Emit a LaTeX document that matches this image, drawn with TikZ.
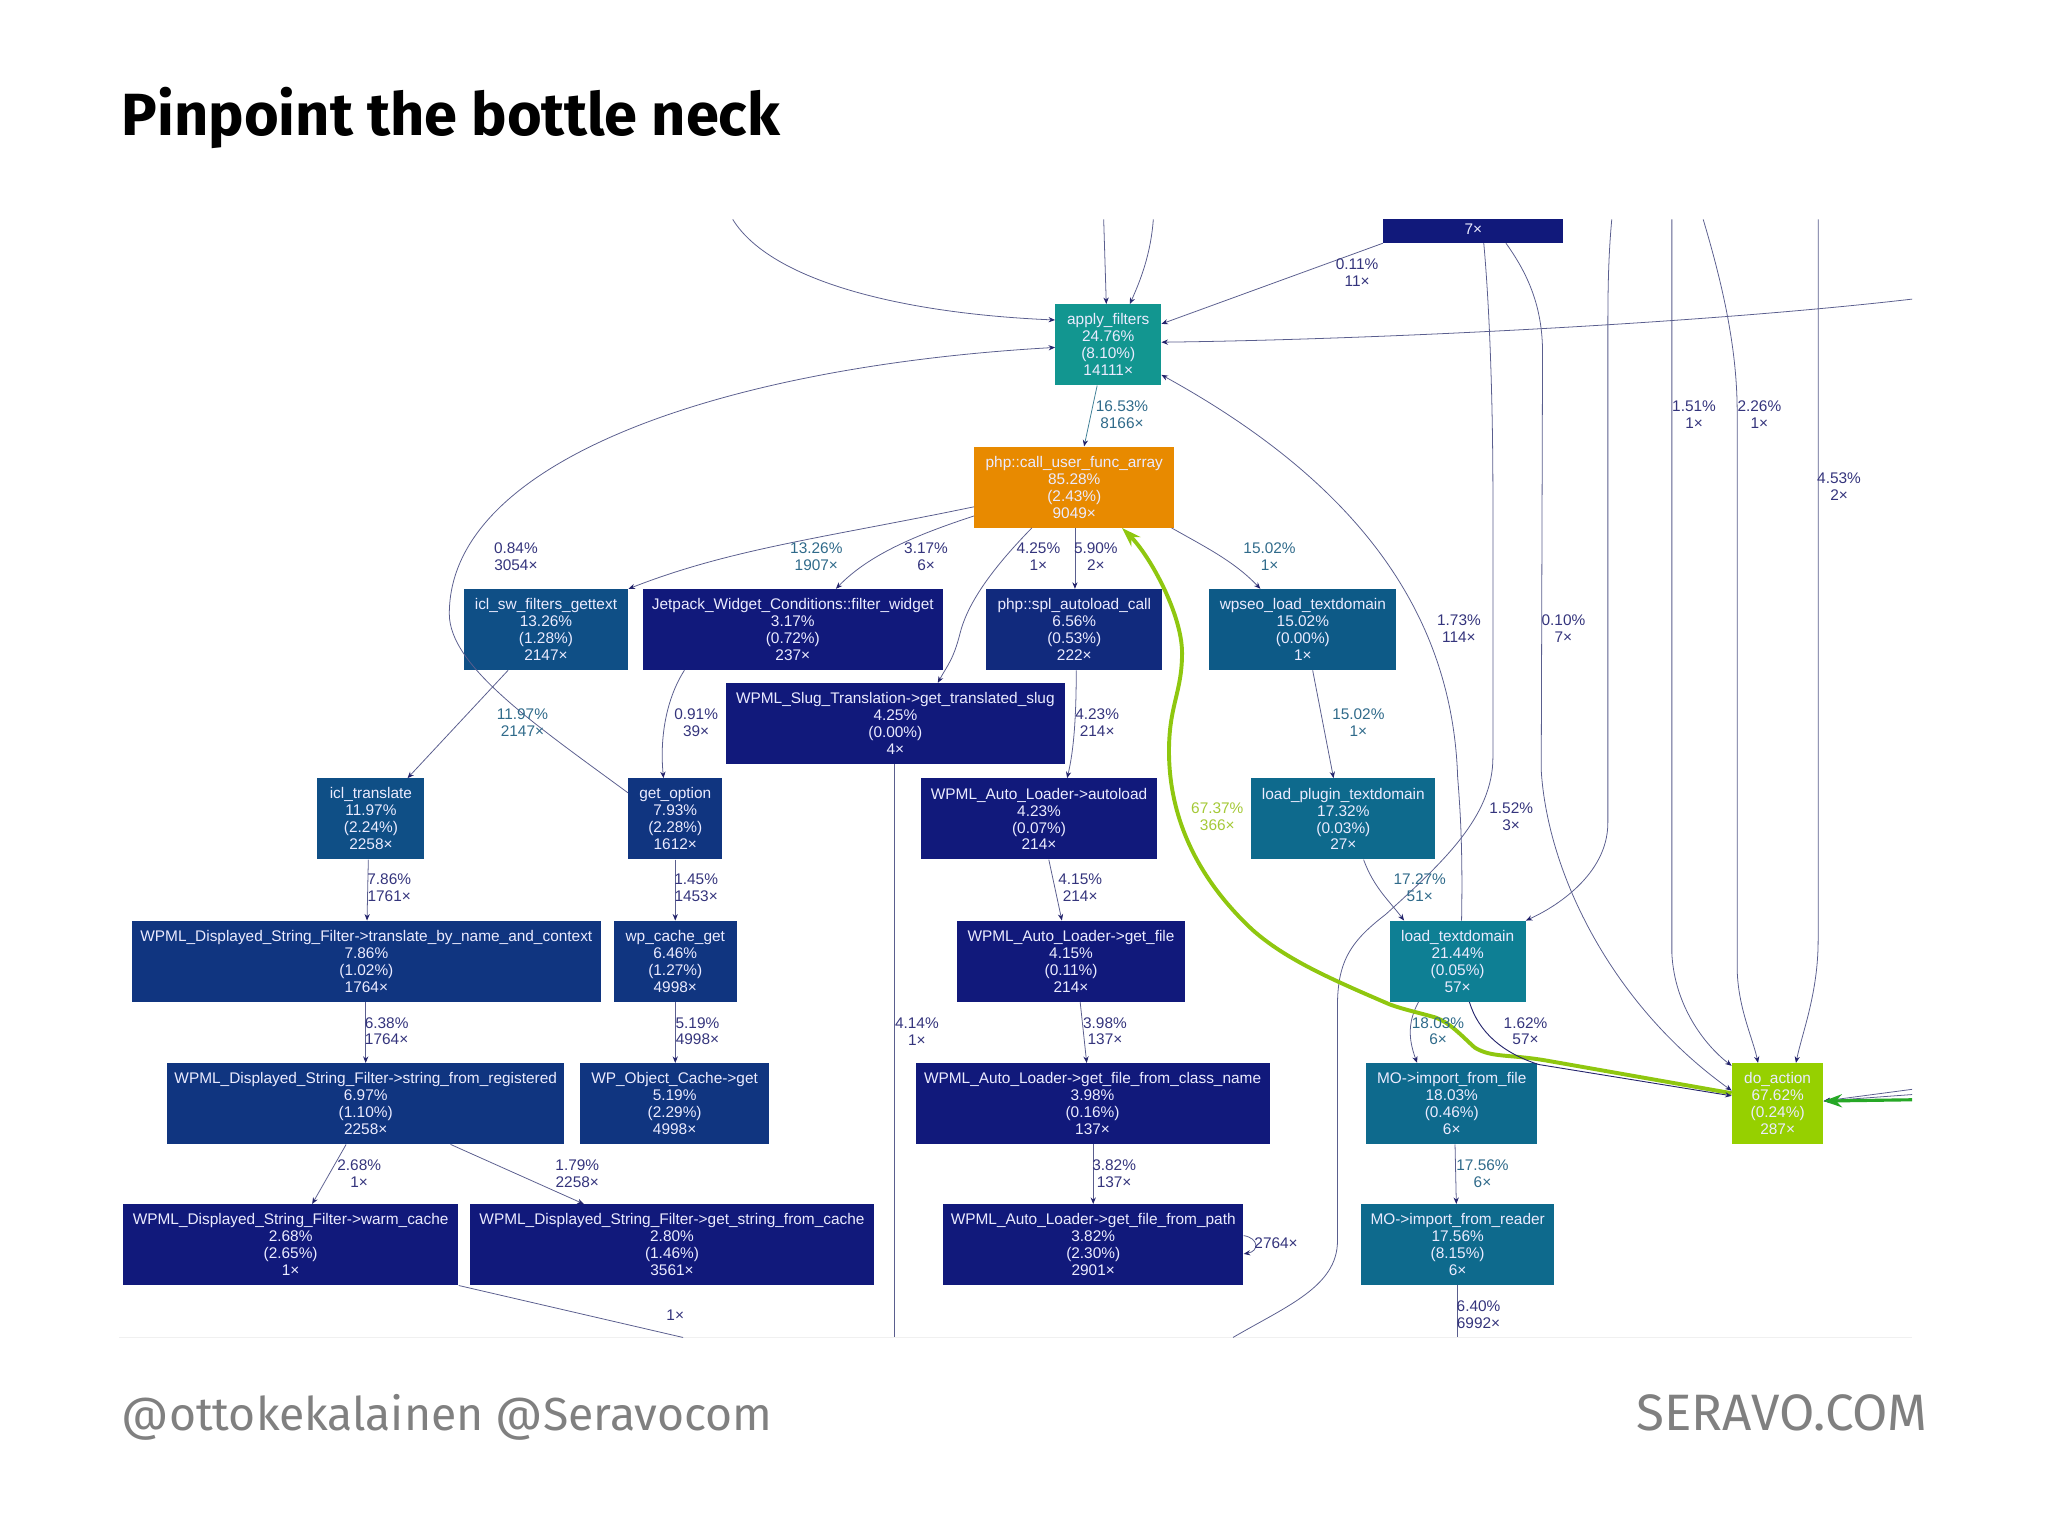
\documentclass[tikz,border=0pt]{standalone}
\usepackage{fontspec}
\usetikzlibrary{arrows.meta}
\setmainfont{Liberation Sans}
\newfontfamily\headfont{Fira Sans}
\definecolor{navyA}{HTML}{11197B}
\definecolor{navyB}{HTML}{112A7D}
\definecolor{navyC}{HTML}{103580}
\definecolor{blueA}{HTML}{0F4F86}
\definecolor{blueC}{HTML}{0D5A87}
\definecolor{blueB}{HTML}{0E6A8D}
\definecolor{tealA}{HTML}{0E7F94}
\definecolor{tealB}{HTML}{129690}
\definecolor{orangeA}{HTML}{E88A00}
\definecolor{limeA}{HTML}{96D000}
\definecolor{limeB}{HTML}{8FC70F}
\definecolor{lineA}{HTML}{5A5E8E}
\definecolor{lineB}{HTML}{3F7F96}
\definecolor{tipA}{HTML}{24246C}
\definecolor{textA}{HTML}{34347C}
\definecolor{textB}{HTML}{2F6A8A}
\definecolor{textC}{HTML}{A4C936}
\definecolor{footA}{HTML}{808080}
\begin{document}
\begin{tikzpicture}[x=1pt,y=-1pt,
        fn/.style={rectangle,text=white!92!blue,align=center,inner sep=0pt,
            minimum height=62pt,font=\fontsize{11.8}{13}\selectfont},
        lbl/.style={align=center,inner sep=0pt,text=textA,
            font=\fontsize{11.8}{13}\selectfont},
        edge/.style={draw=lineA,line width=0.6pt,-{Stealth[length=5pt,width=4pt,color=tipA]}},
        cut/.style={draw=lineA,line width=0.6pt},
        hot/.style={draw=limeB,line width=3pt,-{Stealth[length=15pt,width=10pt]}}]
    \useasboundingbox (0,0) rectangle (1568,1176.75);

    \node[anchor=base west,inner sep=0pt,font=\headfont\bfseries\fontsize{45.6}{50}\selectfont] (title) at (93,104) {Pinpoint the bottle neck};
    \node[anchor=base west,inner sep=0pt,text=footA,font=\headfont\fontsize{35.5}{40}\selectfont] (handles) at (93,1095) {@ottokekalainen @Seravocom};
    \node[anchor=base east,inner sep=0pt,text=footA,font=\headfont\fontsize{39.2}{40}\selectfont] (site) at (1476,1095) {SERAVO.COM};

    % boxes, row by row
    \node[fn,fill=navyA,minimum width=138pt,minimum height=18pt] (top) at (1128,177) {\raisebox{3pt}{7×}};
    \node[fn,fill=tealB,minimum width=81pt] (apply) at (848.5,264) {apply\_filters\\24.76\%\\(8.10\%)\\14111×};
    \node[fn,fill=orangeA,minimum width=153pt] (php) at (822.5,373) {php::call\_user\_func\_array\\85.28\%\\(2.43\%)\\9049×};
    \node[fn,fill=blueA,minimum width=126pt] (gettext) at (418,482) {icl\_sw\_filters\_gettext\\13.26\%\\(1.28\%)\\2147×};
    \node[fn,fill=navyA,minimum width=230pt] (jetpack) at (607,482) {Jetpack\_Widget\_Conditions::filter\_widget\\3.17\%\\(0.72\%)\\237×};
    \node[fn,fill=navyB,minimum width=135pt] (spl) at (822.5,482) {php::spl\_autoload\_call\\6.56\%\\(0.53\%)\\222×};
    \node[fn,fill=blueC,minimum width=143pt] (wpseo) at (997.5,482) {wpseo\_load\_textdomain\\15.02\%\\(0.00\%)\\1×};
    \node[fn,fill=navyA,minimum width=259pt] (slug) at (685.5,554) {WPML\_Slug\_Translation->get\_translated\_slug\\4.25\%\\(0.00\%)\\4×};
    \node[fn,fill=blueA,minimum width=82pt] (translate) at (284,627) {icl\_translate\\11.97\%\\(2.24\%)\\2258×};
    \node[fn,fill=navyC,minimum width=72pt] (option) at (517,627) {get\_option\\7.93\%\\(2.28\%)\\1612×};
    \node[fn,fill=navyA,minimum width=181pt] (autoload) at (795.5,627) {WPML\_Auto\_Loader->autoload\\4.23\%\\(0.07\%)\\214×};
    \node[fn,fill=blueB,minimum width=141pt] (plugin) at (1028.5,627) {load\_plugin\_textdomain\\17.32\%\\(0.03\%)\\27×};
    \node[fn,fill=navyC,minimum width=359pt] (context) at (280.5,736) {WPML\_Displayed\_String\_Filter->translate\_by\_name\_and\_context\\7.86\%\\(1.02\%)\\1764×};
    \node[fn,fill=navyC,minimum width=94pt] (cacheget) at (517,736) {wp\_cache\_get\\6.46\%\\(1.27\%)\\4998×};
    \node[fn,fill=navyA,minimum width=174pt] (getfile) at (820,736) {WPML\_Auto\_Loader->get\_file\\4.15\%\\(0.11\%)\\214×};
    \node[fn,fill=tealA,minimum width=104pt] (domain) at (1116,736) {load\_textdomain\\21.44\%\\(0.05\%)\\57×};
    \node[fn,fill=navyC,minimum width=304pt] (registered) at (280,845) {WPML\_Displayed\_String\_Filter->string\_from\_registered\\6.97\%\\(1.10\%)\\2258×};
    \node[fn,fill=navyC,minimum width=145pt] (object) at (516.5,845) {WP\_Object\_Cache->get\\5.19\%\\(2.29\%)\\4998×};
    \node[fn,fill=navyA,minimum width=271pt] (classname) at (836.5,845) {WPML\_Auto\_Loader->get\_file\_from\_class\_name\\3.98\%\\(0.16\%)\\137×};
    \node[fn,fill=blueB,minimum width=131pt] (importfile) at (1111.5,845) {MO->import\_from\_file\\18.03\%\\(0.46\%)\\6×};
    \node[fn,fill=limeA,minimum width=70pt] (doaction) at (1361,845) {do\_action\\67.62\%\\(0.24\%)\\287×};
    \node[fn,fill=navyA,minimum width=257pt] (warm) at (222.5,953) {WPML\_Displayed\_String\_Filter->warm\_cache\\2.68\%\\(2.65\%)\\1×};
    \node[fn,fill=navyA,minimum width=309pt] (strcache) at (514.5,953) {WPML\_Displayed\_String\_Filter->get\_string\_from\_cache\\2.80\%\\(1.46\%)\\3561×};
    \node[fn,fill=navyA,minimum width=230pt] (path) at (837,953) {WPML\_Auto\_Loader->get\_file\_from\_path\\3.82\%\\(2.30\%)\\2901×};
    \node[fn,fill=blueB,minimum width=148pt] (reader) at (1116,953) {MO->import\_from\_reader\\17.56\%\\(8.15\%)\\6×};

    % free ends at the cut of the picture
    \coordinate (inA) at (561,168);
    \coordinate (inB) at (845,168);
    \coordinate (inC) at (883,168);
    \coordinate (inD) at (1464,229);
    \coordinate (inE) at (1234,168);
    \coordinate (inF) at (1280,168);
    \coordinate (inG) at (1304,168);
    \coordinate (inH) at (1392,168);
    \coordinate (inI) at (1464,842);
    \coordinate (inJ) at (1464,834);
    \coordinate (inK) at (1464,838);
    \coordinate (outA) at (523,1024);
    \coordinate (outB) at (685,1024);
    \coordinate (outC) at (944,1024);
    \coordinate (outD) at (1116,1024);
    \coordinate (cutL) at (91,1024);
    \coordinate (cutR) at (1464,1024);
    \draw[draw=black!6,line width=1pt] (cutL) -- (cutR);

    % connectors
    \draw[edge] (inA) .. controls (590,215) and (690,240) .. ([yshift=19pt]apply.west);
    \draw[edge] (inB) -- ([xshift=-1.5pt]apply.north);
    \draw[edge] (inC) .. controls (881,195) and (873,215) .. ([xshift=16.5pt]apply.north);
    \draw[edge] (top.south west) -- ([yshift=16pt]apply.east);
    \draw[edge] (inD) .. controls (1300,248) and (1050,260) .. ([yshift=2pt]apply.east);
    \draw[edge,draw=lineB] ([xshift=-8.5pt]apply.south) -- ([xshift=7.5pt]php.north);
    \draw[edge] ([yshift=20pt]option.west) .. controls (410,555) and (344,510) .. (344,470)
        .. controls (344,350) and (560,280) .. ([yshift=-2pt]apply.west);
    \draw[edge] ([yshift=-15pt]php.west) .. controls (630,412) and (560,420) .. (gettext.north east);
    \draw[edge] ([yshift=-22pt]php.west) .. controls (700,410) and (665,425) .. ([xshift=33pt]jetpack.north);
    \draw[edge] ([xshift=-32.5pt]php.south) .. controls (755,440) and (740,465) .. (735,485)
        .. controls (730,505) and (725,510) .. ([xshift=32.5pt]slug.north);
    \draw[edge] ([xshift=.5pt]php.south) -- ([xshift=.5pt]spl.north);
    \draw[edge] ([xshift=74.5pt]php.south) .. controls (925,420) and (945,430) .. ([xshift=-32.5pt]wpseo.north);
    \draw[edge] ([xshift=-29pt]gettext.south) -- ([xshift=28pt]translate.north);
    \draw[edge] ([xshift=-83pt]jetpack.south) .. controls (510,535) and (505,565) .. ([xshift=-9pt]option.north);
    \draw[edge] ([xshift=1.5pt]spl.south) .. controls (824,550) and (822,575) .. ([xshift=21.5pt]autoload.north);
    \draw[edge] ([xshift=7.5pt]wpseo.south) -- ([xshift=-7.5pt]plugin.north);
    \draw[edge] ([xshift=-2pt]translate.south) -- ([xshift=.5pt]context.north);
    \draw[edge] (option.south) -- (cacheget.north);
    \draw[edge] ([xshift=7.5pt]autoload.south) -- ([xshift=-7pt]getfile.north);
    \draw[edge] ([xshift=15.5pt]plugin.south) .. controls (1052,680) and (1064,690) .. ([xshift=-41pt]domain.north);
    \draw[edge] ([xshift=-.5pt]context.south) -- (registered.north);
    \draw[edge] (cacheget.south) -- ([xshift=.5pt]object.north);
    \draw[edge] ([xshift=7pt]getfile.south) -- ([xshift=-4.5pt]classname.north);
    \draw[edge] ([xshift=3pt]domain.north) .. controls (1120,650) and (1118,620) .. (1116,595)
        .. controls (1112,470) and (1040,370) .. ([yshift=-23pt]apply.east);
    \draw[edge] ([xshift=-30pt]domain.south) .. controls (1078,782) and (1078,795) .. ([xshift=-26.5pt]importfile.north);
    \draw[edge] ([xshift=-15pt]registered.south) -- ([xshift=16.5pt]warm.north);
    \draw[edge] ([xshift=65pt]registered.south) -- ([xshift=-67.5pt]strcache.north);
    \draw[edge] ([xshift=.5pt]classname.south) -- (path.north);
    \draw[edge] ([xshift=2.5pt]importfile.south) -- ([xshift=-1pt]reader.north);
    \draw[edge] ([yshift=7pt]path.east) .. controls (964,948) and (964,958) .. ([yshift=-7pt]path.east);
    \draw[cut] ([xshift=-.5pt]slug.south) -- (outB);
    \draw[cut] (warm.south east) -- (outA);
    \draw[cut] (reader.south) -- (outD);
    \draw[cut] ([xshift=8pt]top.south) .. controls (1140,230) and (1143,300) .. (1143,380)
        -- (1143,580) .. controls (1143,625) and (1105,660) .. (1061,700)
        .. controls (1035,720) and (1024,735) .. (1024,770) -- (1024,950)
        .. controls (1024,985) and (985,1000) .. (outC);
    \draw[edge] ([xshift=25pt]top.south) .. controls (1170,210) and (1181,235) .. (1181,270)
        -- (1180,590) .. controls (1185,670) and (1235,770) .. ([yshift=10pt]doaction.west);
    \draw[edge] (inE) .. controls (1231,200) and (1231,230) .. (1231,260) -- (1231,630)
        .. controls (1231,670) and (1190,695) .. (domain.north east);
    \draw[edge] (inF) -- (1280,730) .. controls (1282,770) and (1305,800) .. ([yshift=29pt]doaction.west);
    \draw[edge] (inG) .. controls (1318,215) and (1330,265) .. (1330,315) -- (1330,740)
        .. controls (1330,770) and (1342,795) .. ([xshift=-15pt]doaction.north);
    \draw[edge] (inH) -- (1392,720) .. controls (1392,760) and (1380,790) .. ([xshift=14pt]doaction.north);
    \draw[edge] (inJ) -- ([yshift=2pt]doaction.east);
    \draw[edge] (inK) -- ([yshift=2pt]doaction.east);
    \draw[-{Stealth[length=14pt,width=10pt]},draw=green!60!black!85,line width=2.4pt] (inI) -- ([yshift=2pt]doaction.east);
    \draw[hot] ([yshift=8pt]doaction.west) -- (1184,812) .. controls (1155,807) and (1142,810) .. (1129,802)
        .. controls (1118,792) and (1110,783) .. (1099,779)
        .. controls (1085,775) and (1075,773) .. (1064,769)
        .. controls (1020,750) and (985,735) .. (959,712)
        .. controls (930,685) and (895,640) .. (895,575)
        .. controls (895,540) and (905,530) .. (905,500)
        .. controls (905,470) and (880,425) .. ([xshift=36.5pt]php.south);
    \draw[edge,draw=tipA,line width=0.7pt] ([xshift=9pt]domain.south) .. controls (1132,790) and (1150,806) .. (1178,815)
        -- ([yshift=6pt]doaction.west);

    % edge labels
    \node[lbl] (l0) at (1039,208.5) {0.11\%\\11×};
    \node[lbl,text=textB] (l1) at (859,317.5) {16.53\%\\8166×};
    \node[lbl] (l2) at (1297,317.5) {1.51\%\\1×};
    \node[lbl] (l3) at (1347,317.5) {2.26\%\\1×};
    \node[lbl] (l4) at (1408,372.5) {4.53\%\\2×};
    \node[lbl] (l5) at (395,426.5) {0.84\%\\3054×};
    \node[lbl,text=textB] (l6) at (625,426.5) {13.26\%\\1907×};
    \node[lbl] (l7) at (709,426.5) {3.17\%\\6×};
    \node[lbl] (l8) at (795,426.5) {4.25\%\\1×};
    \node[lbl] (l9) at (839,426.5) {5.90\%\\2×};
    \node[lbl,text=textB] (l10) at (972,426.5) {15.02\%\\1×};
    \node[lbl] (l11) at (1117,481.5) {1.73\%\\114×};
    \node[lbl] (l12) at (1197,481.5) {0.10\%\\7×};
    \node[lbl,text=textB] (l13) at (400,553.5) {11.97\%\\2147×};
    \node[lbl] (l14) at (533,553.5) {0.91\%\\39×};
    \node[lbl] (l15) at (840,553.5) {4.23\%\\214×};
    \node[lbl,text=textB] (l16) at (1040,553.5) {15.02\%\\1×};
    \node[lbl,text=textC] (l17) at (932,625.5) {67.37\%\\366×};
    \node[lbl] (l18) at (1157,625.5) {1.52\%\\3×};
    \node[lbl] (l19) at (298,679.5) {7.86\%\\1761×};
    \node[lbl] (l20) at (533,679.5) {1.45\%\\1453×};
    \node[lbl] (l21) at (827,679.5) {4.15\%\\214×};
    \node[lbl,text=textB] (l22) at (1087,679.5) {17.27\%\\51×};
    \node[lbl] (l23) at (296,789.5) {6.38\%\\1764×};
    \node[lbl] (l24) at (534,789.5) {5.19\%\\4998×};
    \node[lbl] (l25) at (702,789.5) {4.14\%\\1×};
    \node[lbl] (l26) at (846,789.5) {3.98\%\\137×};
    \node[lbl,text=textB] (l27) at (1101,789.5) {18.03\%\\6×};
    \node[lbl] (l28) at (1168,789.5) {1.62\%\\57×};
    \node[lbl] (l29) at (275,898.5) {2.68\%\\1×};
    \node[lbl] (l30) at (442,898.5) {1.79\%\\2258×};
    \node[lbl] (l31) at (853,898.5) {3.82\%\\137×};
    \node[lbl,text=textB] (l32) at (1135,898.5) {17.56\%\\6×};
    \node[lbl] (l33) at (977,952) {2764×};
    \node[lbl] (l34) at (517,1007) {1×};
    \node[lbl] (l35) at (1132,1006.5) {6.40\%\\6992×};
\end{tikzpicture}
\end{document}
